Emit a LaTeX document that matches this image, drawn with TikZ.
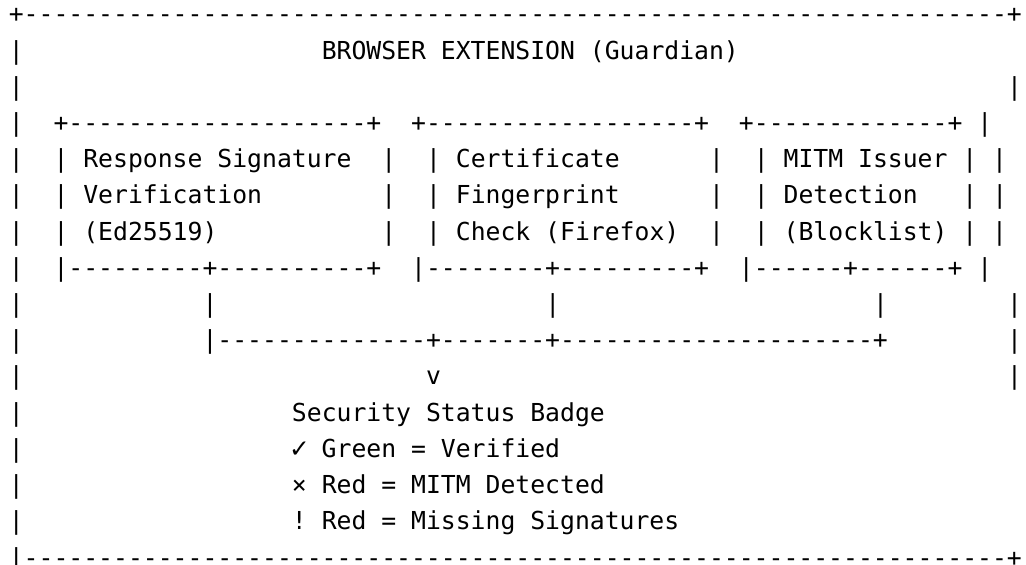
\documentclass[tikz,border=0pt]{standalone}
\usepackage{fontspec}
\newfontfamily\asciifont{DejaVu Sans Mono}
\newfontfamily\symfont{DejaVu Sans}
\usetikzlibrary{positioning}

% one column = one character of the mono font
\newcommand\dashes[1]{\foreach\k in {1,...,#1}{-}}
\newcommand\tick{\makebox[11.17pt][c]{\symfont ✓}}

\tikzset{
  ascii/.style={anchor=base west,inner sep=0pt,outer sep=0pt,
    font=\asciifont\fontsize{18.56pt}{18.56pt}\selectfont\frenchspacing},
}

\begin{document}
\begin{tikzpicture}[x=11.175pt,y=-27.15pt]
    \useasboundingbox (-0.594,-0.635) rectangle (68.265,14.945);

    % outer frame, top
    \node[ascii] (top) at (0,0) {+\dashes{66}+};
    \node[ascii] (l1a) at (0,1) {|};
    \node[ascii] (title) at (21,1) {BROWSER EXTENSION (Guardian)};
    \node[ascii] (l2a) at (0,2) {|};
    \node[ascii] (l2b) at (67,2) {|};

    % the three checks
    \node[ascii] (l3a) at (0,3) {|};
    \node[ascii] (sigtop) at (3,3) {+\dashes{20}+};
    \node[ascii] (certtop) at (27,3) {+\dashes{18}+};
    \node[ascii] (mitmtop) at (49,3) {+\dashes{13}+};
    \node[ascii] (l3b) at (65,3) {|};

    \node[ascii] (l4a) at (0,4) {|};
    \node[ascii] (sig1) at (3,4) {| Response Signature};
    \node[ascii] (l4b) at (25,4) {|};
    \node[ascii] (cert1) at (28,4) {| Certificate};
    \node[ascii] (l4c) at (47,4) {|};
    \node[ascii] (mitm1) at (50,4) {| MITM Issuer | |};

    \node[ascii] (l5a) at (0,5) {|};
    \node[ascii] (sig2) at (3,5) {| Verification};
    \node[ascii] (l5b) at (25,5) {|};
    \node[ascii] (cert2) at (28,5) {| Fingerprint};
    \node[ascii] (l5c) at (47,5) {|};
    \node[ascii] (mitm2) at (50,5) {| Detection};
    \node[ascii] (l5d) at (64,5) {| |};

    \node[ascii] (l6a) at (0,6) {|};
    \node[ascii] (sig3) at (3,6) {| (Ed25519)};
    \node[ascii] (l6b) at (25,6) {|};
    \node[ascii] (cert3) at (28,6) {| Check (Firefox)};
    \node[ascii] (l6c) at (47,6) {|};
    \node[ascii] (mitm3) at (50,6) {| (Blocklist) | |};

    \node[ascii] (l7a) at (0,7) {|};
    \node[ascii] (sigbot) at (3,7) {|\dashes{9}+\dashes{10}+};
    \node[ascii] (certbot) at (27,7) {|\dashes{8}+\dashes{9}+};
    \node[ascii] (mitmbot) at (49,7) {|\dashes{6}+\dashes{6}+};
    \node[ascii] (l7b) at (65,7) {|};

    % joining the checks
    \node[ascii] (l8a) at (0,8) {|};
    \node[ascii] (sigout) at (13,8) {|};
    \node[ascii] (certout) at (36,8) {|};
    \node[ascii] (mitmout) at (58,8) {|};
    \node[ascii] (l8b) at (67,8) {|};

    \node[ascii] (l9a) at (0,9) {|};
    \node[ascii] (join) at (13,9) {|\dashes{14}+\dashes{7}+\dashes{21}+};
    \node[ascii] (l9b) at (67,9) {|};

    \node[ascii] (l10a) at (0,10) {|};
    \node[ascii] (arrow) at (28,10) {v};
    \node[ascii] (l10b) at (67,10) {|};

    % badge
    \node[ascii] (l11a) at (0,11) {|};
    \node[ascii] (badge) at (19,11) {Security Status Badge};
    \node[ascii] (l12a) at (0,12) {|};
    \node[ascii] (green) at (19,12) {\tick{} Green = Verified};
    \node[ascii] (l13a) at (0,13) {|};
    \node[ascii] (redmitm) at (19,13) {× Red = MITM Detected};
    \node[ascii] (l14a) at (0,14) {|};
    \node[ascii] (redsig) at (19,14) {! Red = Missing Signatures};

    % outer frame, bottom
    \node[ascii] (bottom) at (0,15) {|\dashes{66}+};
\end{tikzpicture}
\end{document}
